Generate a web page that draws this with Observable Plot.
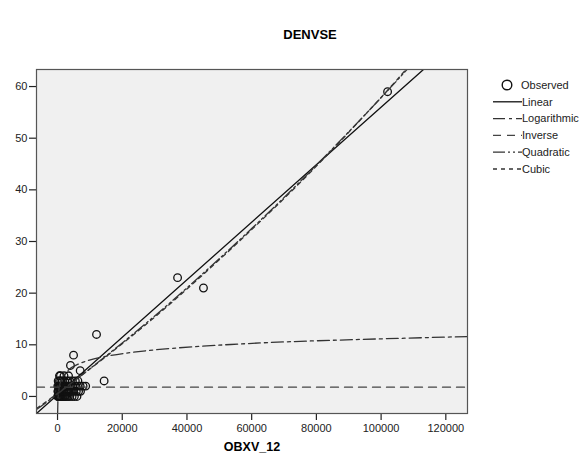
<!DOCTYPE html>
<html>
<head>
<meta charset="utf-8">
<script src="https://cdn.jsdelivr.net/npm/d3@7"></script>
<script src="https://cdn.jsdelivr.net/npm/@observablehq/plot@0.6"></script>
<style>
  html, body { margin: 0; padding: 0; background: #ffffff; }
  #chart { width: 588px; height: 454px; overflow: hidden; }
</style>
</head>
<body>
<div id="chart"></div>
<script>
// ---- data ----
const title = "DENVSE";
const xLabel = "OBXV_12";
const xTicks = [0, 20000, 40000, 60000, 80000, 100000, 120000];
const yTicks = [0, 10, 20, 30, 40, 50, 60];

const obsX = [
  50,150,300,450,600,800,1000,1200,1500,1800,2100,2500,2900,3300,3800,4500,5200,6000,
  100,250,400,700,900,1100,1400,1700,2000,2400,2800,3200,3700,4300,5000,5800,6500,7100,
  80,300,500,800,1000,1300,1600,1900,2300,2700,3100,3600,4200,4800,5500,6200,7000,7900,8700,
  200,600,1000,1500,2200,3000,3800,4600,5500,6300,14400,
  600,900,2000,3400,
  7000,4000,4950,12050,45100,37100,102000
];
const obsY = [
  0,0,0,0,0,0,0,0,0,0,0,0,0,0,0,0,0,0,
  1,1,1,1,1,1,1,1,1,1,1,1,1,1,1,1,1,1,
  2,2,2,2,2,2,2,2,2,2,2,2,2,2,2,2,2,2,2,
  3,3,3,3,3,3,3,3,3,3,3,
  4,4,4,4,
  5,6,8,12,21,23,59
];

const linearX = [-6500, 113100];
const linearY = [-3.3, 63.3];

const logX = [30, 100, 200, 500, 1000, 3000, 6200, 13300, 30000, 53500, 80000, 126700];
const logY = [-3.34, -1.19, 0.05, 1.69, 2.93, 4.90, 6.20, 7.57, 9.02, 10.06, 10.78, 11.6];

const inverseX = [-6500, 126700];
const inverseY = [1.8, 1.8];

const quadX = [-6500, 0, 20000, 40000, 60000, 80000, 100000, 110000];
const quadY = [-2.53, 0.5, 10.36, 21.03, 32.5, 44.77, 57.85, 64.69];

const cubicX = [-6500, 0, 20000, 40000, 60000, 80000, 100000, 110000];
const cubicY = [-2.3, 0.6, 10.2, 20.8, 32.3, 44.6, 57.9, 65.0];

const legendLabels = ["Observed", "Linear", "Logarithmic", "Inverse", "Quadratic", "Cubic"];

// ---- build tables ----
const zip = (xs, ys) => xs.map((x, i) => ({x, y: ys[i]}));
const obs = zip(obsX, obsY);

const styles = {
  Linear:      {stroke: "#111", dash: null, w: 1.3},
  Logarithmic: {stroke: "#333", dash: "12,4,3,4", w: 1.3},
  Inverse:     {stroke: "#444", dash: "8,6", w: 1.3},
  Quadratic:   {stroke: "#333", dash: "12,3,2,3,2,3", w: 1.3},
  Cubic:       {stroke: "#333", dash: "4,4", w: 1.3}
};
const curves = [
  ["Linear", zip(linearX, linearY), "linear"],
  ["Logarithmic", zip(logX, logY), "natural"],
  ["Inverse", zip(inverseX, inverseY), "linear"],
  ["Quadratic", zip(quadX, quadY), "natural"],
  ["Cubic", zip(cubicX, cubicY), "natural"]
];

const font = "'Liberation Sans', Arial, sans-serif";

const chart = Plot.plot({
  width: 588,
  height: 454,
  marginLeft: 36,
  marginRight: 121,
  marginTop: 69,
  marginBottom: 41,
  style: {fontFamily: font, fontSize: "11px", color: "#222", background: "#ffffff"},
  x: {domain: [-6500, 126700]},
  y: {domain: [-3.3, 63.3]},
  marks: [
    Plot.frame({fill: "#f0f0f0", stroke: "none"}),
    Plot.axisX({ticks: xTicks, tickFormat: d => String(d), tickSize: 7, tickPadding: 4, label: null, stroke: "#222", strokeWidth: 1.2}),
    Plot.axisY({ticks: yTicks, tickFormat: d => String(d), tickSize: 7, tickPadding: 2, label: null, stroke: "#222", strokeWidth: 1.2}),
    Plot.dot(obs, {x: "x", y: "y", r: 3.8, stroke: "#111", strokeWidth: 1.3, fill: "none"}),
    ...curves.map(([name, data, curve]) => Plot.line(data, {
      x: "x", y: "y", curve, clip: true,
      stroke: styles[name].stroke,
      strokeWidth: styles[name].w,
      strokeDasharray: styles[name].dash
    })),
    Plot.frame({stroke: "#555", strokeWidth: 1.2}),
    Plot.text([title], {frameAnchor: "top", dx: 58, dy: -40, fontWeight: "bold", fontSize: 13, fill: "#000", text: d => d}),
    Plot.text([xLabel], {frameAnchor: "bottom", dy: 37, lineAnchor: "bottom", fontWeight: "bold", fontSize: 12.5, fill: "#000", text: d => d})
  ]
});

document.getElementById("chart").appendChild(chart);

// ---- legend ----
const svg = d3.select(chart);
const lg = svg.append("g")
  .attr("font-family", font).attr("font-size", 11).attr("fill", "#222")
  .attr("text-anchor", "start");
const rowY = i => 85 + i * 16.8;
legendLabels.forEach((name, i) => {
  const y = rowY(i);
  if (name === "Observed") {
    lg.append("circle").attr("cx", 507).attr("cy", y).attr("r", 4.8)
      .attr("fill", "none").attr("stroke", "#111").attr("stroke-width", 1.4);
    lg.append("text").attr("x", 521).attr("y", y).attr("dy", "0.35em")
      .attr("text-anchor", "start").text(name);
  } else {
    const s = styles[name];
    lg.append("line").attr("x1", 493).attr("x2", 522).attr("y1", y).attr("y2", y)
      .attr("stroke", s.stroke).attr("stroke-width", s.w)
      .attr("stroke-dasharray", s.dash);
    lg.append("text").attr("x", 522).attr("y", y).attr("dy", "0.35em")
      .attr("text-anchor", "start").text(name);
  }
});
</script>
</body>
</html>
